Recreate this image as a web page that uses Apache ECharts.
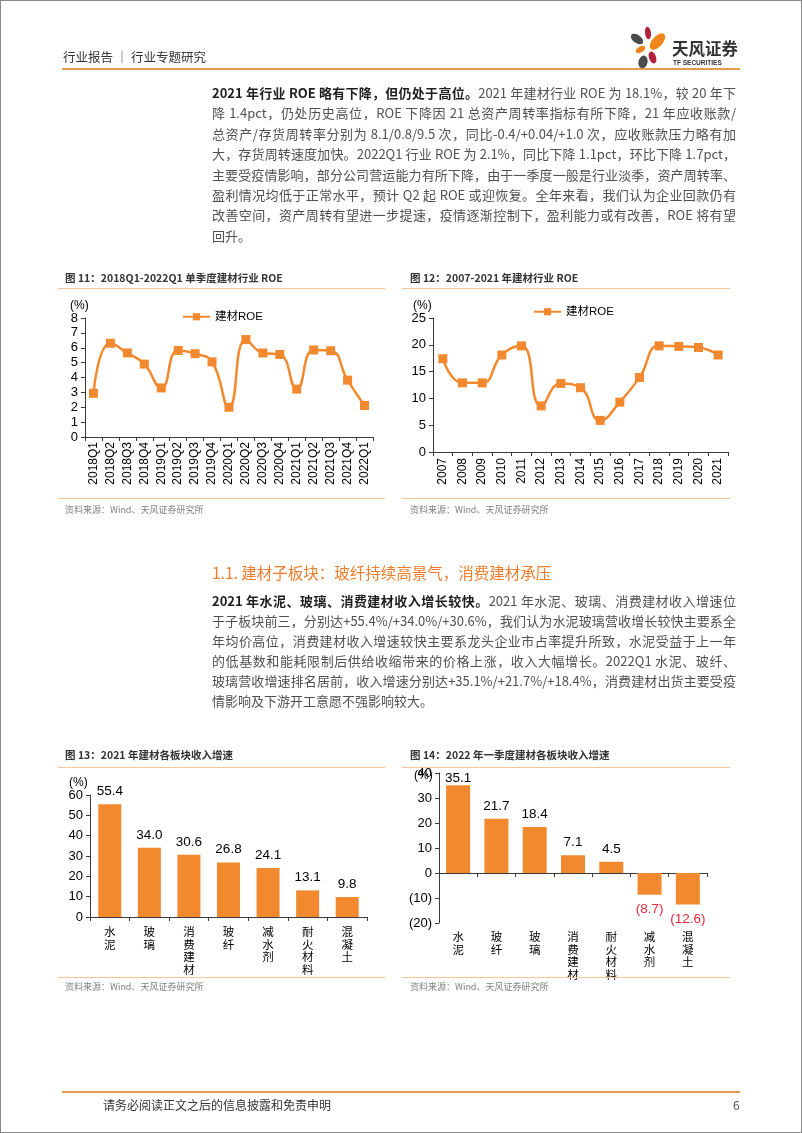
<!DOCTYPE html>
<html><head><meta charset="utf-8">
<script src="https://cdn.jsdelivr.net/npm/echarts@6.0.0/dist/echarts.min.js"></script>
<style>
body{margin:0;background:#fff;}
#page{position:relative;width:802px;height:1133px;overflow:hidden;background:#fff;font-family:"Noto Sans CJK SC","Noto Sans",sans-serif;}
#chart{position:absolute;left:0;top:0;width:802px;height:1133px;}
.abs{position:absolute;white-space:nowrap;}
.ln{position:absolute;left:212px;width:524px;height:20px;line-height:20px;font-size:13px;color:#505050;text-align:justify;text-align-last:justify;white-space:nowrap;}
.ln.last{text-align-last:left;}
.ln b{color:#1e1e1e;font-weight:bold;}
.ftitle{position:absolute;font-size:10.5px;font-weight:bold;color:#333;height:14px;line-height:14px;white-space:nowrap;}
.src{position:absolute;font-size:9px;color:#808080;height:12px;line-height:12px;white-space:nowrap;}
.thin{position:absolute;height:1px;background:#F5C59A;}
.thick{position:absolute;left:62px;width:678px;height:2px;background:#E59B4F;}
#frame{position:absolute;left:0;top:0;width:802px;height:1133px;box-sizing:border-box;border:1px solid #8a8a8a;pointer-events:none;}
</style>
</head><body>
<div id="page">
  <div id="chart"></div>

  <!-- header -->
  <div class="abs" style="left:63px;top:48px;font-size:12.5px;line-height:18px;color:#333;">行业报告 ｜ 行业专题研究</div>
  <svg class="abs" style="left:626px;top:24px;" width="46" height="50" viewBox="626 24 46 50">
    <ellipse cx="648" cy="33" rx="3" ry="6.2" transform="rotate(-8 648 33)" fill="#B3223A"/>
    <ellipse cx="657.5" cy="41.5" rx="5.2" ry="10" transform="rotate(42 657.5 41.5)" fill="#F08519"/>
    <ellipse cx="637" cy="39" rx="4" ry="7" transform="rotate(-55 637 39)" fill="#4a4a4a"/>
    <ellipse cx="640.5" cy="49.5" rx="3" ry="5.2" transform="rotate(60 640.5 49.5)" fill="#F08519"/>
    <ellipse cx="643" cy="62" rx="4.5" ry="6.5" transform="rotate(15 643 62)" fill="#4a4a4a"/>
    <ellipse cx="652.5" cy="57.5" rx="3.5" ry="6.2" transform="rotate(-20 652.5 57.5)" fill="#B3223A"/>
  </svg>
  <div class="abs" style="left:672px;top:38px;font-size:16.5px;line-height:20px;font-weight:bold;color:#333;">天风证券</div>
  <div class="abs" style="left:673px;top:59px;font-size:6.5px;line-height:8px;font-weight:bold;color:#333;font-family:'Liberation Sans Narrow','Liberation Sans',sans-serif;">TF SECURITIES</div>
  <div class="thick" style="top:68px;"></div>

  <!-- paragraph 1 -->
  <div class="ln" style="top:83px;"><b>2021 年行业 ROE 略有下降，但仍处于高位。</b>2021 年建材行业 ROE 为 18.1%，较 20 年下</div>
  <div class="ln" style="top:103.4px;">降 1.4pct，仍处历史高位，ROE 下降因 21 总资产周转率指标有所下降，21 年应收账款/</div>
  <div class="ln" style="top:123.8px;">总资产/存货周转率分别为 8.1/0.8/9.5 次，同比-0.4/+0.04/+1.0 次，应收账款压力略有加</div>
  <div class="ln" style="top:144.2px;">大，存货周转速度加快。2022Q1 行业 ROE 为 2.1%，同比下降 1.1pct，环比下降 1.7pct，</div>
  <div class="ln" style="top:164.6px;">主要受疫情影响，部分公司营运能力有所下降，由于一季度一般是行业淡季，资产周转率、</div>
  <div class="ln" style="top:185px;">盈利情况均低于正常水平，预计 Q2 起 ROE 或迎恢复。全年来看，我们认为企业回款仍有</div>
  <div class="ln" style="top:205.4px;">改善空间，资产周转有望进一步提速，疫情逐渐控制下，盈利能力或有改善，ROE 将有望</div>
  <div class="ln last" style="top:225.8px;">回升。</div>

  <!-- figure 11/12 frame -->
  <div class="ftitle" style="left:65px;top:271px;">图 11：2018Q1-2022Q1 单季度建材行业 ROE</div>
  <div class="ftitle" style="left:410px;top:271px;">图 12：2007-2021 年建材行业 ROE</div>
  <div class="thin" style="left:58px;top:288px;width:327px;"></div>
  <div class="thin" style="left:402px;top:288px;width:328px;"></div>
  <div class="thin" style="left:58px;top:498px;width:327px;"></div>
  <div class="thin" style="left:402px;top:498px;width:328px;"></div>
  <div class="src" style="left:65px;top:504px;">资料来源：Wind、天风证券研究所</div>
  <div class="src" style="left:410px;top:504px;">资料来源：Wind、天风证券研究所</div>

  <!-- heading + paragraph 2 -->
  <div class="abs" style="left:212px;top:561px;font-size:15.5px;line-height:22px;color:#EE7E2D;">1.1. 建材子板块：玻纤持续高景气，消费建材承压</div>
  <div class="ln" style="top:591px;"><b>2021 年水泥、玻璃、消费建材收入增长较快。</b>2021 年水泥、玻璃、消费建材收入增速位</div>
  <div class="ln" style="top:611px;">于子板块前三，分别达+55.4%/+34.0%/+30.6%，我们认为水泥玻璃营收增长较快主要系全</div>
  <div class="ln" style="top:631px;">年均价高位，消费建材收入增速较快主要系龙头企业市占率提升所致，水泥受益于上一年</div>
  <div class="ln" style="top:651px;">的低基数和能耗限制后供给收缩带来的价格上涨，收入大幅增长。2022Q1 水泥、玻纤、</div>
  <div class="ln" style="top:671px;">玻璃营收增速排名居前，收入增速分别达+35.1%/+21.7%/+18.4%，消费建材出货主要受疫</div>
  <div class="ln last" style="top:691px;">情影响及下游开工意愿不强影响较大。</div>

  <!-- figure 13/14 frame -->
  <div class="ftitle" style="left:65px;top:748px;">图 13：2021 年建材各板块收入增速</div>
  <div class="ftitle" style="left:410px;top:748px;">图 14：2022 年一季度建材各板块收入增速</div>
  <div class="thin" style="left:58px;top:767px;width:327px;"></div>
  <div class="thin" style="left:402px;top:767px;width:328px;"></div>
  <div class="thin" style="left:58px;top:977px;width:327px;"></div>
  <div class="thin" style="left:402px;top:977px;width:328px;"></div>
  <div class="src" style="left:65px;top:981px;">资料来源：Wind、天风证券研究所</div>
  <div class="src" style="left:410px;top:981px;">资料来源：Wind、天风证券研究所</div>

  <!-- footer -->
  <div class="thick" style="top:1091px;"></div>
  <div class="abs" style="left:103px;top:1097px;font-size:12px;line-height:16px;color:#333;">请务必阅读正文之后的信息披露和免责申明</div>
  <div class="abs" style="left:733px;top:1097px;font-size:12px;line-height:16px;color:#555;">6</div>

  <div id="frame"></div>
</div>
<script>
// ---- data ----
const quarters = ['2018Q1','2018Q2','2018Q3','2018Q4','2019Q1','2019Q2','2019Q3','2019Q4','2020Q1','2020Q2','2020Q3','2020Q4','2021Q1','2021Q2','2021Q3','2021Q4','2022Q1'];
const roeQuarterly = [2.94, 6.30, 5.65, 4.90, 3.30, 5.82, 5.60, 5.05, 2.00, 6.55, 5.65, 5.55, 3.22, 5.85, 5.80, 3.82, 2.12];
const years = ['2007','2008','2009','2010','2011','2012','2013','2014','2015','2016','2017','2018','2019','2020','2021'];
const roeYearly = [17.4, 12.9, 12.9, 18.1, 19.8, 8.6, 12.8, 12.0, 5.9, 9.3, 13.9, 19.8, 19.7, 19.5, 18.1];
const sectors2021 = ['水泥','玻璃','消费建材','玻纤','减水剂','耐火材料','混凝土'];
const growth2021 = [55.4, 34.0, 30.6, 26.8, 24.1, 13.1, 9.8];
const sectors2022Q1 = ['水泥','玻纤','玻璃','消费建材','耐火材料','减水剂','混凝土'];
const growth2022Q1 = [35.1, 21.7, 18.4, 7.1, 4.5, -8.7, -12.6];
const seriesName = '建材ROE';

// ---- styles ----
const ORANGE = '#F2892F';
const AXIS = '#3a3a3a';
const FONT = 'Liberation Sans, Arial, Noto Sans CJK SC, sans-serif';
const RED = '#E8283A';

function axisLineCfg(){ return {show:true, lineStyle:{color:AXIS, width:1}}; }
function tickCfg(){ return {show:true, length:4, lineStyle:{color:AXIS}}; }
function vertical(s){ return s.split('').join('\n'); }
function paren(v){ return v < 0 ? '(' + Math.abs(v) + ')' : String(v); }

const chart = echarts.init(document.getElementById('chart'), null, {renderer:'canvas'});
const option = {
  animation:false,
  textStyle:{fontFamily:FONT},
  grid:[
    {left:85, top:318, width:288, height:119},
    {left:433, top:318, width:295, height:134},
    {left:90, top:795, width:277, height:122},
    {left:439, top:773, width:268, height:150}
  ],
  legend:[
    {left:177, top:306, itemWidth:27, itemHeight:9, itemGap:5, data:[seriesName], textStyle:{fontSize:11.5, color:'#000', fontFamily:FONT}},
    {left:528, top:301, itemWidth:27, itemHeight:9, itemGap:5, data:[seriesName], textStyle:{fontSize:11.5, color:'#000', fontFamily:FONT}}
  ],
  xAxis:[
    {gridIndex:0, type:'category', data:quarters, axisLine:axisLineCfg(), axisTick:tickCfg(),
     axisLabel:{rotate:90, interval:0, fontSize:12, margin:5, color:'#000', fontFamily:FONT}},
    {gridIndex:1, type:'category', data:years, axisLine:axisLineCfg(), axisTick:tickCfg(),
     axisLabel:{rotate:90, interval:0, fontSize:12, margin:6, color:'#000', fontFamily:FONT}},
    {gridIndex:2, type:'category', data:sectors2021, axisLine:axisLineCfg(), axisTick:tickCfg(),
     axisLabel:{interval:0, fontSize:11.5, lineHeight:12.5, margin:10, color:'#000', formatter:vertical, verticalAlign:'top'}},
    {gridIndex:3, type:'category', data:sectors2022Q1, axisLine:Object.assign(axisLineCfg(), {onZero:true}), axisTick:tickCfg(),
     axisLabel:{interval:0, fontSize:11.5, lineHeight:12.5, margin:9, color:'#000', formatter:vertical, verticalAlign:'top'}}
  ],
  yAxis:[
    {gridIndex:0, type:'value', min:0, max:8, interval:1, axisLine:axisLineCfg(), axisTick:tickCfg(), splitLine:{show:false},
     axisLabel:{fontSize:13, margin:7, color:'#000'}},
    {gridIndex:1, type:'value', min:0, max:25, interval:5, axisLine:axisLineCfg(), axisTick:tickCfg(), splitLine:{show:false},
     axisLabel:{fontSize:13, margin:7, color:'#000'}},
    {gridIndex:2, type:'value', min:0, max:60, interval:10, axisLine:axisLineCfg(), axisTick:tickCfg(), splitLine:{show:false},
     axisLabel:{fontSize:13, margin:7, color:'#000'}},
    {gridIndex:3, type:'value', min:-20, max:40, interval:10, axisLine:axisLineCfg(), axisTick:tickCfg(), splitLine:{show:false},
     axisLabel:{fontSize:13, margin:7, color:'#000', formatter:paren}}
  ],
  series:[
    {name:seriesName, type:'line', xAxisIndex:0, yAxisIndex:0, data:roeQuarterly, smooth:0.5,
     symbol:'rect', symbolSize:9, lineStyle:{width:2.5, color:ORANGE}, itemStyle:{color:ORANGE}},
    {name:seriesName, type:'line', xAxisIndex:1, yAxisIndex:1, data:roeYearly, smooth:0.5,
     symbol:'rect', symbolSize:9, lineStyle:{width:2.5, color:ORANGE}, itemStyle:{color:ORANGE}},
    {name:'2021', type:'bar', xAxisIndex:2, yAxisIndex:2, data:growth2021, barWidth:23,
     itemStyle:{color:ORANGE},
     label:{show:true, position:'top', distance:6, fontSize:13.5, color:'#000', formatter:p=>p.value.toFixed(1)}},
    {name:'2022Q1', type:'bar', xAxisIndex:3, yAxisIndex:3, barWidth:24,
     itemStyle:{color:ORANGE},
     data:growth2022Q1.map((v,i)=>{
       const item = {value:v};
       if (v < 0) item.label = {position:'bottom', distance:8, color:RED};
       else if (i === 0) item.label = {distance:0};
       return item;
     }),
     label:{show:true, position:'top', distance:6, fontSize:13.5, color:'#000',
            formatter:p=> p.value < 0 ? '(' + Math.abs(p.value).toFixed(1) + ')' : p.value.toFixed(1)}}
  ],
  graphic:[
    {type:'text', left:70, top:300, style:{text:'(%)', font:'12px ' + FONT, fill:'#000'}},
    {type:'text', left:413, top:300, style:{text:'(%)', font:'12px ' + FONT, fill:'#000'}},
    {type:'text', left:69, top:777, style:{text:'(%)', font:'12px ' + FONT, fill:'#000'}},
    {type:'text', left:414, top:770, style:{text:'(%)', font:'12px ' + FONT, fill:'#000'}}
  ]
};
chart.setOption(option);
</script>
</body></html>
